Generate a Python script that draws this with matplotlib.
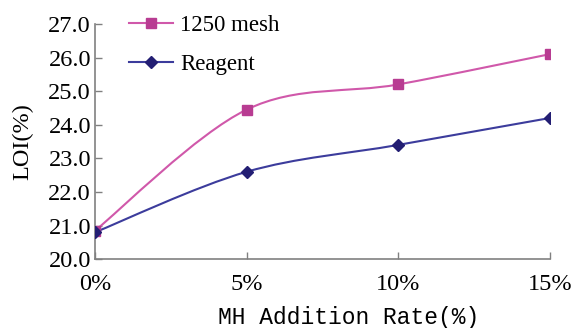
import matplotlib
matplotlib.use("Agg")
import matplotlib.pyplot as plt
import numpy as np
from matplotlib.path import Path
from matplotlib.patches import PathPatch
from matplotlib.lines import Line2D

# data
rates = [0, 5, 10, 15]
rate_labels = ["0%", "5%", "10%", "15%"]
loi_mesh = [20.85, 24.45, 25.2, 26.1]
loi_reagent = [20.8, 22.6, 23.4, 24.2]
yticks = [20.0, 21.0, 22.0, 23.0, 24.0, 25.0, 26.0, 27.0]

MESH_LINE, MESH_MARK = "#D058AA", "#B83C92"
REAG_LINE, REAG_MARK = "#3C3C9C", "#231E73"

SERIF = "Liberation Serif"
MONO = "Liberation Mono"


def smooth_path(x, y):
    """Excel-style smoothed line: cubic Bezier segments through the points."""
    pts = np.column_stack([x, y]).astype(float)
    n = len(pts)
    verts = [pts[0]]
    codes = [Path.MOVETO]
    for i in range(n - 1):
        p0 = pts[i - 1] if i > 0 else pts[i]
        p1, p2 = pts[i], pts[i + 1]
        p3 = pts[i + 2] if i + 2 < n else pts[i + 1]
        verts += [p1 + (p2 - p0) / 6.0, p2 - (p3 - p1) / 6.0, p2]
        codes += [Path.CURVE4] * 3
    return Path(verts, codes)


fig = plt.figure(figsize=(5.8, 3.28), dpi=100)
ax = fig.add_axes([0.164, 0.21, 0.784, 0.717])

for ys, lc, mc, mk, ms in [(loi_mesh, MESH_LINE, MESH_MARK, "s", 7),
                           (loi_reagent, REAG_LINE, REAG_MARK, "D", 6)]:
    ax.add_patch(PathPatch(smooth_path(rates, ys), facecolor="none",
                           edgecolor=lc, lw=1.5, zorder=2))
    ax.plot(rates, ys, linestyle="none", marker=mk, ms=ms, color=mc, zorder=3)

ax.set_xlim(0, 15)
ax.set_ylim(20, 27)
ax.set_xticks(rates)
ax.set_xticklabels(rate_labels, fontfamily=SERIF, fontsize=17.5)
ax.set_yticks(yticks)
ax.set_yticklabels([f"{v:.1f}" for v in yticks], fontfamily=SERIF, fontsize=17.5)
ax.tick_params(direction="in", length=5, color="#808080", width=1)
ax.tick_params(axis="x", pad=11)
ax.tick_params(axis="y", pad=3)
for s in ("top", "right"):
    ax.spines[s].set_visible(False)
for s in ("left", "bottom"):
    ax.spines[s].set_color("#808080")
    ax.spines[s].set_linewidth(1.2)

ax.set_ylabel("LOI(%)", fontfamily=SERIF, fontsize=17.5)
ax.yaxis.set_label_coords(-0.135, 0.5)
ax.set_xlabel("MH Addition Rate(%)", fontfamily=MONO, fontsize=16.5)
ax.xaxis.set_label_coords(0.558, -0.20)

handles = [
    Line2D([0], [0], color=MESH_LINE, lw=1.5, marker="s", ms=7,
           mfc=MESH_MARK, mec=MESH_MARK, label="1250 mesh"),
    Line2D([0], [0], color=REAG_LINE, lw=1.5, marker="D", ms=6,
           mfc=REAG_MARK, mec=REAG_MARK, label="Reagent"),
]
ax.legend(handles=handles, loc="upper left", bbox_to_anchor=(0.03, 1.125),
          frameon=False, prop={"family": SERIF, "size": 16.5},
          handlelength=1.9, handletextpad=0.3, labelspacing=0.78)

fig.savefig("out.png", dpi=100)
